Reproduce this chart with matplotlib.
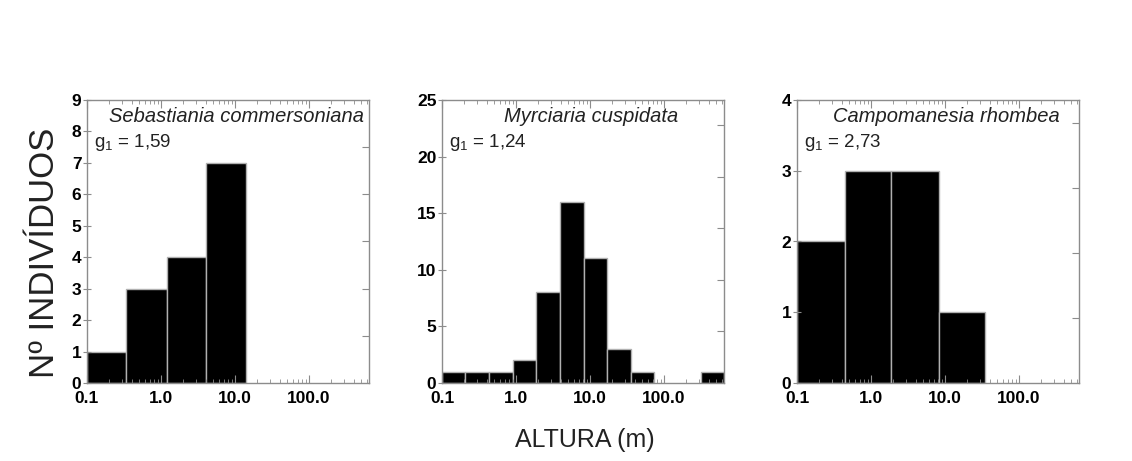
import matplotlib
matplotlib.use("Agg")
import matplotlib.pyplot as plt
import numpy as np

plt.rcParams['font.family'] = ['Liberation Sans', 'DejaVu Sans']

species = ['Sebastiania commersoniana', 'Myrciaria cuspidata', 'Campomanesia rhombea']
g1_labels = ['1,59', '1,24', '2,73']

edges_seb = [0.1, 0.335, 1.19, 4.1, 14.2]
counts_seb = [1, 3, 4, 7]

edges_myr = [0.1, 0.207, 0.43, 0.91, 1.85, 3.9, 8.2, 17.2, 35.5, 73, 152, 313, 646]
counts_myr = [1, 1, 1, 2, 8, 16, 11, 3, 1, 0, 0, 1]

edges_cam = [0.1, 0.44, 1.89, 8.2, 34.4]
counts_cam = [2, 3, 3, 1]

ymax = [9, 25, 4]
ystep = [1, 5, 1]
right_ticks = [np.arange(1.5, 9, 1.5), np.arange(4.55, 25, 4.55), np.arange(0.92, 4, 0.92)]

xticks = [0.1, 1, 10, 100]
xticklabels = ['0.1', '1.0', '10.0', '100.0']

grey = '#8c8c8c'
fig = plt.figure(figsize=(11.32, 4.61), dpi=100)

lefts = [87, 442, 797]
data = [(edges_seb, counts_seb), (edges_myr, counts_myr), (edges_cam, counts_cam)]

for i, (edges, counts) in enumerate(data):
    ax = fig.add_axes([lefts[i] / 1132, 78 / 461, 282 / 1132, 283 / 461])
    e = np.array(edges)
    c = np.array(counts)
    keep = c > 0
    ax.bar(e[:-1][keep], c[keep], width=(e[1:] - e[:-1])[keep], align='edge',
           color='black', edgecolor='#b0b0b0', linewidth=1.0)
    ax.set_xscale('log')
    ax.set_xlim(0.1, 646)
    ax.set_ylim(0, ymax[i])
    ax.set_xticks(xticks)
    ax.set_xticklabels(xticklabels, fontsize=12.5, fontweight='bold')
    yt = np.arange(0, ymax[i] + 0.1, ystep[i])
    ax.set_yticks(yt)
    ax.set_yticklabels([str(int(v)) for v in yt], fontsize=12.5, fontweight='bold')
    ax.tick_params(axis='x', which='major', direction='in', top=True, length=6,
                   color=grey, pad=6)
    ax.tick_params(axis='x', which='minor', direction='in', top=True, length=3,
                   color=grey)
    ax.tick_params(axis='y', which='major', direction='inout', length=6, color=grey, pad=1)
    for s in ax.spines.values():
        s.set_color(grey)
        s.set_linewidth(1.0)
    # right-hand ticks (inward)
    ax2 = ax.twinx()
    ax2.set_ylim(0, ymax[i])
    ax2.set_yticks(right_ticks[i])
    ax2.set_yticklabels([])
    ax2.tick_params(axis='y', direction='in', length=5, color=grey)
    for s in ax2.spines.values():
        s.set_visible(False)

    ax.text(0.53, 0.94, species[i], transform=ax.transAxes, ha='center', va='center',
            fontsize=14.5, style='italic', color='#222222')
    ax.text(0.025, 0.85, r'g$_{\mathregular{1}}$ = ' + g1_labels[i], transform=ax.transAxes,
            ha='left', va='center', fontsize=13.5, color='#222222')

fig.text(45 / 1132, 1 - 253 / 461, 'Nº INDIVÍDUOS', rotation=90, ha='center', va='center',
         fontsize=25, color='#222222')
fig.text(585 / 1132, 1 - 440 / 461, 'ALTURA (m)', ha='center', va='center',
         fontsize=18, color='#222222')

fig.savefig('out.png', dpi=100, facecolor='white')
